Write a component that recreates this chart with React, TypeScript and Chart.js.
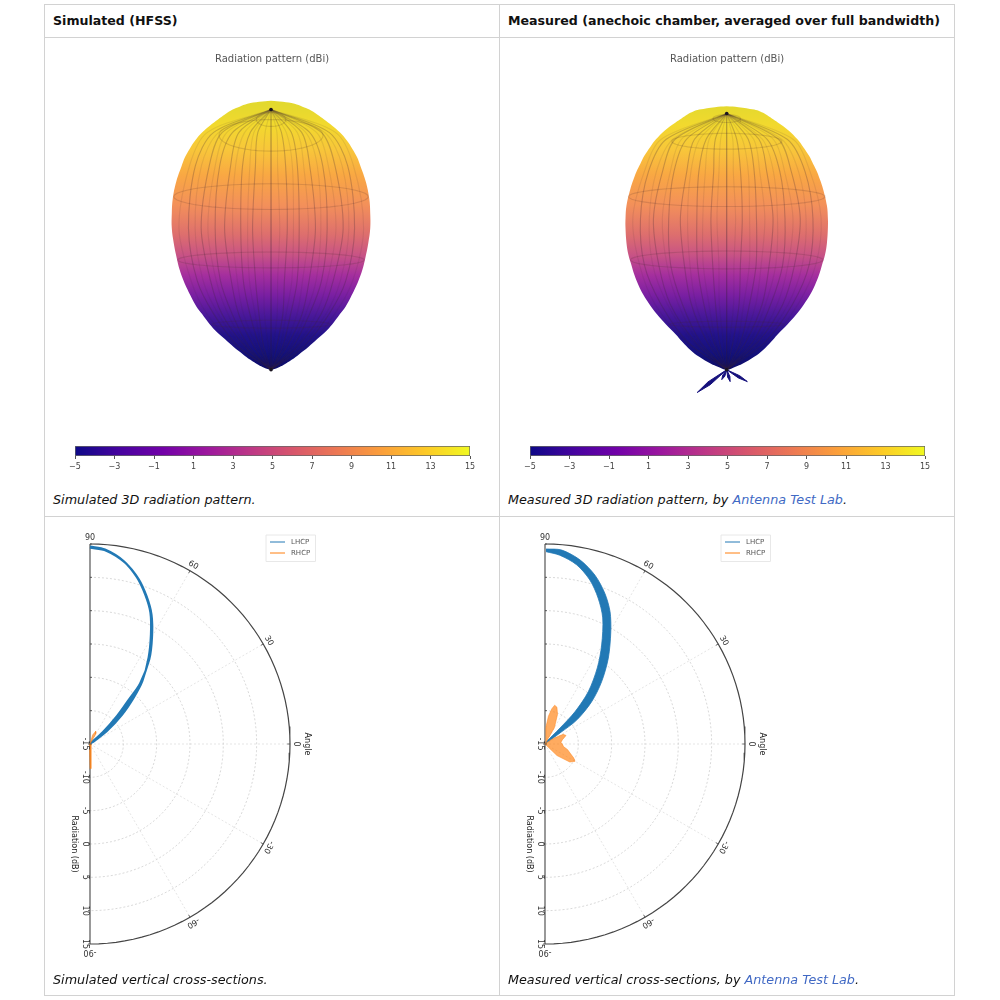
import React, { useEffect, useRef } from "react";
import { Chart, registerables } from "chart.js";

Chart.register(...registerables);

// ---------- 3D balloon outlines: image row -> half width ----------
const simRows = [101, 102, 104, 107, 110, 115, 120, 126, 133, 141, 150, 158, 167, 183, 200, 215, 230, 245, 260, 272, 283, 292, 300, 309, 317, 325, 333, 342, 350, 357, 363, 368, 371, 373];
const simHalfWidths = [0, 12, 24, 32, 39, 47, 54, 62, 70, 77, 83, 87.5, 91, 96.5, 100, 101, 101, 99, 96, 93, 89, 85, 81, 76, 70, 64, 57, 47, 38, 29, 21, 13, 7, 0];
const measRows = [106.7, 107.5, 110, 112, 115, 119, 123, 131, 140, 148, 157, 165, 173, 181, 190, 207, 220, 230, 245, 257, 267, 277, 287, 297, 307, 317, 327, 337, 345, 353, 360, 367, 370, 373];
const measHalfWidths = [0, 12, 28, 34, 40, 46, 52, 63, 72, 78, 84, 88, 92, 95, 98, 102, 103, 103, 102, 100, 97, 94, 90, 85, 78.5, 71, 62, 52, 45, 37, 28, 16, 9, 0];
const simMeridians = [-0.84, -0.7, -0.57, -0.46, -0.31, -0.18, 0, 0.16, 0.29, 0.44, 0.57, 0.72, 0.85];
const measMeridians = [-0.86, -0.72, -0.58, -0.45, -0.3, -0.15, 0, 0.15, 0.3, 0.45, 0.58, 0.72, 0.86];
const backMeridians = [-0.92, -0.77, -0.63, -0.39, -0.24, -0.09, 0.08, 0.23, 0.37, 0.51, 0.65, 0.79, 0.93];
const meridianWander = [0.4, -0.6, 0.8, -0.4, 0.7, -0.8, 0.5, -0.6, 0.3];
const simRingRows = [120, 136, 198, 262, 327];
const simRingHalf = [15, 53, 99, 95, 60];
const simRingMinor = [7, 16, 13, 8, 4];
const measRingRows = [119, 142, 198, 262, 327];
const measRingHalf = [14, 56, 100, 98, 58];
const measRingMinor = [4, 8, 10, 9, 3];
const measBackLobeX = [-30, 21, 3.5, -5];
const measBackLobeY = [396, 385, 385, 383];
const measBackLobeWidth = [3.6, 2.6, 2.4, 2.4];
const gradientRows = [105, 125, 150, 175, 205, 235, 255, 275, 295, 315, 335, 355, 373];
const gradientColors = ["#e3d92e", "#f2d92e", "#f8c63a", "#f9a843", "#f3905a", "#dd6e6e", "#c85385", "#a52f9e", "#7a1fa2", "#4a189a", "#22128a", "#12107a", "#0d0b60"];

// ---------- Colour bar ----------
const colorTicks = [-5, -3, -1, 1, 3, 5, 7, 9, 11, 13, 15];
const plasma = ["#0d0887", "#46039f", "#7201a8", "#9c179e", "#bd3786", "#d8576b", "#ed7953", "#fb9f3a", "#fdca26", "#f0f921"];

// ---------- Cross-sections (angle in degrees, level in dB) ----------
const simLhcpOuterAngles = [90, 85.6, 79.6, 74.3, 69.7, 65.3, 60.9, 55.9, 50.3, 46.8, 42.5, 37.5, 36];
const simLhcpOuter = [14.6, 14.25, 12.9, 11.0, 8.9, 6.7, 3.8, 0.7, -2.7, -5.4, -8.5, -11.9, -14.5];
const simLhcpInnerAngles = [90, 85.2, 79, 73.6, 69, 64.6, 60, 55, 50.4, 48.8, 46, 42.5, 46];
const simLhcpInner = [14.45, 14.1, 12.7, 10.8, 8.7, 6.5, 3.6, 0.5, -3.2, -6.1, -9.1, -12.4, -14.7];
const measLhcpOuterAngles = [89.7, 85.1, 79.2, 73.5, 68.3, 63.8, 59.6, 53.6, 47.7, 42.2, 37.1, 36.3, 45];
const measLhcpOuter = [14.25, 14.2, 13.1, 11.4, 9.3, 7.1, 4.5, 1.0, -2.4, -5.55, -9.0, -12.2, -14.8];
const measLhcpInnerAngles = [89.7, 85.5, 80, 74.7, 70, 65.4, 60.2, 55.5, 50.4, 47.1, 46.8, 63];
const measLhcpInner = [13.85, 13.4, 12.3, 10.5, 8.3, 5.8, 2.1, -1.15, -4.8, -8.4, -11.7, -14.7];

const simRhcpLobeAngles = [84, 74, 66, 60, 52, 84];
const simRhcpLobeLevels = [-15, -13.6, -12.9, -13.3, -15, -15];
const simRhcpTailAngles = [-80, -85, -88, -88.5, -89, -88];
const simRhcpTailLevels = [-15, -13.5, -12.5, -12.2, -11.5, -11.3];

const measRhcpUpAngles = [89, 87, 83, 79, 76, 72, 67, 60, 50, 89];
const measRhcpUpLevels = [-15, -12.5, -10.8, -9.6, -9.0, -9.2, -10.2, -12.2, -15, -15];
const measRhcpFanAngles = [40, 34, 28, 22, 14, 6, 0, -8, -14, -20, -26, -30, -36, -44, -55, 40];
const measRhcpFanLevels = [-15, -13.5, -11.9, -11.6, -12.3, -12.6, -12.4, -12.2, -11.5, -11.0, -10.2, -9.8, -10.4, -12.5, -15, -15];

const angleTicks = [90, 60, 30, 0, -30, -60, -90];
const radialTicks = [-15, -10, -5, 0, 5, 10, 15];
const radialGrid = [-10, -5, 0, 5, 10];
const spokeAngles = [60, 30, 0, -30, -60];
const legendItems = ["LHCP", "RHCP"];

const FONT = "'DejaVu Sans'";
const BLUE = "#2279b5";
const ORANGE = "#ff7f0e";
const BALLOON_TOP = 38;

const polar = (angle: number, level: number) => {
  const r = level + 15;
  const a = (angle * Math.PI) / 180;
  return { x: r * Math.cos(a), y: r * Math.sin(a) };
};
const trace = (angles: number[], levels: number[]) => angles.map((a, i) => polar(a, levels[i]));

function Balloon(props: {
  left: number; cx: number; rows: number[]; hw: number[]; pole: number;
  meridians: number[]; ringRows: number[]; ringHalf: number[]; ringMinor: number[];
  lobeX?: number[]; lobeY?: number[]; lobeW?: number[];
}) {
  const ref = useRef<HTMLCanvasElement>(null);
  useEffect(() => {
    const { rows, hw, pole, meridians, ringRows, ringHalf, ringMinor, lobeX, lobeY, lobeW, cx, left } = props;
    const lineBase = { showLine: true, pointRadius: 0, fill: false };
    const bottom = rows[rows.length - 1];
    const datasets: any[] = [];
    // poles
    datasets.push({ ...lineBase, label: "poles", data: [{ x: 0, y: pole }, { x: 0, y: bottom }], showLine: false, pointRadius: 1.8, pointBackgroundColor: "#1a1420", pointBorderWidth: 0 });
    // meridians, front and back of the surface
    const addMeridian = (f: number, k: number, color: string) => {
      const pts: { x: number; y: number }[] = [{ x: 0, y: pole }];
      let n = k;
      rows.forEach((y, i) => {
        if (y > pole + 3 && i < rows.length - 2 && i % 4 === 0) {
          const w = f === 0 ? 0 : meridianWander[n++ % meridianWander.length];
          pts.push({ x: f * hw[i] + w, y });
        }
      });
      pts.push({ x: 0, y: bottom });
      datasets.push({ ...lineBase, label: "meridian", data: pts, borderColor: color, borderWidth: 1.1, tension: 0.3 });
    };
    meridians.forEach((f, k) => addMeridian(f, k, f === 0 ? "rgba(50,30,50,0.38)" : "rgba(60,35,50,0.25)"));
    backMeridians.forEach((f, k) => addMeridian(f, k + 3, "rgba(60,35,50,0.1)"));
    // rings
    ringRows.forEach((ry, k) => {
      const pts = Array.from({ length: 49 }, (_, i) => {
        const t = (i / 48) * 2 * Math.PI;
        return { x: ringHalf[k] * Math.cos(t), y: ry + ringMinor[k] * Math.sin(t) };
      });
      datasets.push({ ...lineBase, label: "ring", data: pts, borderColor: "rgba(70,40,40,0.17)", borderWidth: 1.1 });
    });
    // back lobes
    (lobeX || []).forEach((x, i) => {
      const y = lobeY![i];
      const dy = y - bottom;
      const len = Math.hypot(x, dy);
      const nx = (dy / len) * lobeW![i] * 0.5;
      const ny = (-x / len) * lobeW![i] * 0.5;
      datasets.push({
        ...lineBase, label: "lobe",
        data: [{ x: 0, y: bottom }, { x: x * 0.6 + nx, y: bottom + dy * 0.6 + ny }, { x, y }, { x: x * 0.6 - nx, y: bottom + dy * 0.6 - ny }, { x: 0, y: bottom }],
        fill: "shape", backgroundColor: "#15107c", borderColor: "#15107c", borderWidth: 1,
      });
    });
    // surface
    const outline = [
      ...rows.map((y, i) => ({ x: hw[i], y })),
      ...rows.slice(0, -1).reverse().map((y) => ({ x: -hw[rows.indexOf(y)], y })),
    ];
    const first = gradientRows[0];
    const last = gradientRows[gradientRows.length - 1];
    datasets.push({
      ...lineBase,
      label: "surface",
      data: outline,
      tension: 0.4,
      fill: "shape",
      borderWidth: 0,
      borderColor: "transparent",
      backgroundColor: (c: any) => {
        const g = c.chart.ctx.createLinearGradient(0, first - BALLOON_TOP, 0, last - BALLOON_TOP);
        gradientRows.forEach((r, i) => g.addColorStop((r - first) / (last - first), gradientColors[i]));
        return g;
      },
    });
    const chart = new Chart(ref.current!, {
      type: "scatter",
      data: { datasets },
      options: {
        animation: false, responsive: false, devicePixelRatio: 1,
        layout: { padding: 0 },
        plugins: {
          legend: { display: false }, tooltip: { enabled: false },
          title: { display: true, text: "Radiation pattern (dBi)", color: "#555", font: { family: FONT, size: 10, weight: "normal" }, padding: { top: 15, bottom: 9 } },
        },
        scales: {
          x: { type: "linear", display: false, min: left - cx, max: left + 454 - cx },
          y: { type: "linear", display: false, reverse: true, min: 74, max: 440 },
        },
      } as any,
    });
    return () => chart.destroy();
  }, []);
  return <canvas ref={ref} width={454} height={402} style={{ position: "absolute", left: props.left, top: BALLOON_TOP, width: 454, height: 402 }} />;
}

function ColorBar({ left }: { left: number }) {
  const ref = useRef<HTMLCanvasElement>(null);
  useEffect(() => {
    const chart = new Chart(ref.current!, {
      type: "bar",
      data: {
        labels: [""],
        datasets: [{
          label: "dBi",
          data: [[colorTicks[0], colorTicks[colorTicks.length - 1]]],
          barPercentage: 1, categoryPercentage: 1, borderWidth: 1, borderColor: "#666", borderSkipped: false,
          backgroundColor: (c: any) => {
            const g = c.chart.ctx.createLinearGradient(20, 0, 415, 0);
            plasma.forEach((col, i) => g.addColorStop(i / (plasma.length - 1), col));
            return g;
          },
        }] as any,
      },
      options: {
        indexAxis: "y", animation: false, responsive: false, devicePixelRatio: 1,
        layout: { padding: { left: 20, right: 20, top: 6, bottom: 0 } },
        plugins: { legend: { display: false }, tooltip: { enabled: false } },
        scales: {
          y: { display: false },
          x: {
            type: "linear", min: -5, max: 15,
            afterBuildTicks: (ax: any) => { ax.ticks = colorTicks.map((value) => ({ value })); },
            afterFit: (ax: any) => { ax.height = 18; },
            border: { display: false },
            grid: { drawOnChartArea: false, tickLength: 3, color: "#555", tickWidth: 1 },
            ticks: {
              maxRotation: 0, autoSkip: false, padding: 3, color: "#444", font: { family: FONT, size: 8 },
              callback: (v: any) => String(v).replace("-", "\u2212"),
            },
          },
        },
      } as any,
    });
    return () => chart.destroy();
  }, []);
  return <canvas ref={ref} width={435} height={34} style={{ position: "absolute", left, top: 440, width: 435, height: 34 }} />;
}

function PolarPlot(props: { left: number; bands: any[]; bandStroke: number; lobes: any[]; tails: any[] }) {
  const ref = useRef<HTMLCanvasElement>(null);
  useEffect(() => {
    const R = 30;
    const base = { showLine: true, pointRadius: 0, fill: false };
    const arc = (level: number) => Array.from({ length: 73 }, (_, i) => polar(90 - (i * 180) / 72, level));
    const datasets: any[] = [];
    props.tails.forEach((d) => datasets.push({ ...base, label: "RHCP", data: d, borderColor: "rgba(255,127,14,0.85)", borderWidth: 1.8 }));
    props.lobes.forEach((d) => datasets.push({ ...base, label: "RHCP", data: d, borderColor: "rgba(255,127,14,0.6)", borderWidth: 0.8, fill: "shape", backgroundColor: "rgba(255,127,14,0.66)" }));
    props.bands.forEach((d) => datasets.push({ ...base, label: "LHCP", data: d, tension: 0.3, borderColor: BLUE, borderWidth: props.bandStroke, fill: "shape", backgroundColor: BLUE }));
    datasets.push({ ...base, label: "frame", data: arc(15), borderColor: "#444", borderWidth: 1.2 });
    datasets.push({ ...base, label: "frame", data: [polar(90, 15), polar(-90, 15)], borderColor: "#555", borderWidth: 1.2 });
    radialGrid.forEach((l) => datasets.push({ ...base, label: "grid", data: arc(l), borderColor: "#cfcfcf", borderWidth: 0.8, borderDash: [2, 2] }));
    spokeAngles.forEach((a) => datasets.push({ ...base, label: "grid", data: [polar(a, -15), polar(a, 15)], borderColor: "#dedede", borderWidth: 0.8, borderDash: [2, 2] }));

    const labels = {
      id: "polarLabels",
      afterDatasetsDraw(chart: any) {
        const { ctx, scales: { x, y } } = chart;
        const px = (v: number) => x.getPixelForValue(v);
        const py = (v: number) => y.getPixelForValue(v);
        const text = (s: string, X: number, Y: number, rot: number, size = 8, color = "#333") => {
          ctx.save();
          ctx.translate(X, Y);
          ctx.rotate((rot * Math.PI) / 180);
          ctx.font = `${size}px ${FONT}`;
          ctx.fillStyle = color;
          ctx.textAlign = "center";
          ctx.textBaseline = "middle";
          ctx.fillText(s, 0, 0);
          ctx.restore();
        };
        angleTicks.forEach((a) => {
          const p = polar(a, 15.97);
          text(String(a), px(p.x), py(p.y) + (a === -90 ? 2 : 0), 90 - a);
          if (Math.abs(a) !== 90) {
            const q = polar(a, 14.6), s = polar(a, 15);
            ctx.save(); ctx.strokeStyle = "#444"; ctx.lineWidth = 0.8; ctx.beginPath();
            ctx.moveTo(px(q.x), py(q.y)); ctx.lineTo(px(s.x), py(s.y)); ctx.stroke(); ctx.restore();
          }
        });
        const a0 = polar(0, 17);
        text("Angle", px(a0.x) + 4, py(a0.y), 90, 8, "#222");
        radialTicks.forEach((l) => {
          const p = polar(-90, l);
          text(String(l), px(p.x) - 5, py(p.y), 90);
          const up = polar(90, l);
          ctx.save(); ctx.strokeStyle = "#444"; ctx.lineWidth = 0.8; ctx.beginPath();
          ctx.moveTo(px(p.x) - 2, py(p.y)); ctx.lineTo(px(p.x), py(p.y));
          ctx.moveTo(px(up.x), py(up.y)); ctx.lineTo(px(up.x) + 2, py(up.y)); ctx.stroke(); ctx.restore();
        });
        text("Radiation (dB)", px(0) - 16, py(-15), 90, 8, "#222");
        // legend
        const bx = px(0) + 176, by = py(0) - 209;
        ctx.save();
        ctx.fillStyle = "rgba(255,255,255,0.8)"; ctx.strokeStyle = "#e8e8e8"; ctx.lineWidth = 1;
        ctx.beginPath(); ctx.rect(bx, by, 49.5, 26.5); ctx.fill(); ctx.stroke();
        ctx.lineWidth = 1;
        legendItems.forEach((name, i) => {
          const ly = by + 7 + i * 11;
          ctx.strokeStyle = i === 0 ? BLUE : ORANGE;
          ctx.beginPath(); ctx.moveTo(bx + 4, ly); ctx.lineTo(bx + 19, ly); ctx.stroke();
          ctx.font = `7px ${FONT}`; ctx.fillStyle = "#555"; ctx.textAlign = "left"; ctx.textBaseline = "middle";
          ctx.fillText(name, bx + 25, ly);
        });
        ctx.restore();
      },
    };

    const unit = 200 / R;
    const chart = new Chart(ref.current!, {
      type: "scatter",
      data: { datasets },
      plugins: [labels],
      options: {
        animation: false, responsive: false, devicePixelRatio: 1,
        layout: { padding: 0 },
        plugins: { legend: { display: false }, tooltip: { enabled: false }, title: { display: false } },
        scales: {
          x: { type: "linear", display: false, min: -45 / unit, max: 409 / unit },
          y: { type: "linear", display: false, min: -251 / unit, max: 227 / unit },
        },
      } as any,
    });
    return () => chart.destroy();
  }, []);
  return <canvas ref={ref} width={454} height={478} style={{ position: "absolute", left: props.left, top: 517, width: 454, height: 478 }} />;
}

const Rule = (p: { l: number; t: number; w: number; h: number }) => (
  <div style={{ position: "absolute", left: p.l, top: p.t, width: p.w, height: p.h, background: "#d2d2d2" }} />
);
const Text = (p: { l: number; cy: number; bold?: boolean; children: React.ReactNode }) => (
  <div style={{
    position: "absolute", left: p.l, top: p.cy - 10, height: 20, lineHeight: "20px", whiteSpace: "nowrap",
    fontFamily: FONT, fontSize: p.bold ? 12.6 : 12.75, color: "#111",
    fontWeight: p.bold ? "bold" : "normal", fontStyle: p.bold ? "normal" : "italic",
  }}>{p.children}</div>
);
const LINK = { color: "#4169c4" };

export default function App() {
  return (
    <div style={{ position: "absolute", left: 0, top: 0, width: 1000, height: 1000, overflow: "hidden", background: "#fff", filter: "blur(0.45px)" }}>
      <Rule l={44} t={4} w={911} h={1} />
      <Rule l={44} t={37} w={911} h={1} />
      <Rule l={44} t={516} w={911} h={1} />
      <Rule l={44} t={995} w={911} h={1} />
      <Rule l={44} t={4} w={1} h={992} />
      <Rule l={499} t={4} w={1} h={992} />
      <Rule l={954} t={4} w={1} h={992} />

      <Text l={53} cy={21} bold>Simulated (HFSS)</Text>
      <Text l={508} cy={21} bold>Measured (anechoic chamber, averaged over full bandwidth)</Text>

      <Balloon left={45} cx={271} rows={simRows} hw={simHalfWidths} pole={110} meridians={simMeridians}
        ringRows={simRingRows} ringHalf={simRingHalf} ringMinor={simRingMinor} />
      <Balloon left={500} cx={726.7} rows={measRows} hw={measHalfWidths} pole={114} meridians={measMeridians}
        ringRows={measRingRows} ringHalf={measRingHalf} ringMinor={measRingMinor}
        lobeX={measBackLobeX} lobeY={measBackLobeY} lobeW={measBackLobeWidth} />

      <ColorBar left={55} />
      <ColorBar left={510} />

      <Text l={53} cy={500}>Simulated 3D radiation pattern.</Text>
      <Text l={508} cy={500}>Measured 3D radiation pattern, by <span style={LINK}>Antenna Test Lab</span>.</Text>

      <PolarPlot left={45} bandStroke={2.2}
        bands={[[...trace(simLhcpOuterAngles, simLhcpOuter), ...trace(simLhcpInnerAngles, simLhcpInner).reverse()]]}
        lobes={[trace(simRhcpLobeAngles, simRhcpLobeLevels)]}
        tails={[trace(simRhcpTailAngles, simRhcpTailLevels)]} />
      <PolarPlot left={500} bandStroke={0.8}
        bands={[[...trace(measLhcpOuterAngles, measLhcpOuter), ...trace(measLhcpInnerAngles, measLhcpInner).reverse()]]}
        lobes={[trace(measRhcpUpAngles, measRhcpUpLevels), trace(measRhcpFanAngles, measRhcpFanLevels)]}
        tails={[]} />

      <Text l={53} cy={980}>Simulated vertical cross-sections.</Text>
      <Text l={508} cy={980}>Measured vertical cross-sections, by <span style={LINK}>Antenna Test Lab</span>.</Text>
    </div>
  );
}
